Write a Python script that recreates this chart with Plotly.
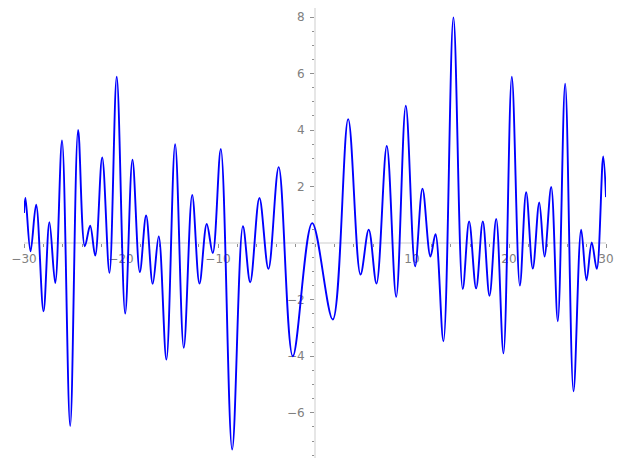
import plotly.graph_objects as go

# Curve points (local extrema and a few shape points)
x_vals = [-30, -29.85, -29.33, -28.75, -27.99, -27.38, -26.78, -26.08, -25.24, -24.42,
          -23.73, -23.18, -22.66, -21.94, -21.19, -20.44, -19.57, -18.82, -18.06, -17.41,
          -16.73, -16.11, -15.32, -14.42, -13.53, -12.66, -11.91, -11.16, -10.54, -9.71,
          -8.54, -7.43, -6.68, -5.73, -4.8, -3.74, -2.29, -0.29, 1.83, 3.42,
          4.69, 5.54, 6.34, 7.4, 8.37, 9.36, 10.32, 11.08, 11.9, 12.42,
          13.24, 14.27, 15.23, 15.89, 16.61, 17.3, 17.99, 18.68, 19.43, 20.29,
          21.12, 21.77, 22.45, 23.12, 23.66, 24.35, 25.03, 25.79, 26.65, 27.44,
          27.99, 28.53, 29.05, 29.71, 30]
y_vals = [1.07, 1.6, -0.29, 1.36, -2.41, 0.74, -1.41, 3.63, -6.47, 4.01,
          -0.11, 0.62, -0.44, 3.03, -1.05, 5.89, -2.49, 2.95, -1.02, 0.98,
          -1.44, 0.24, -4.12, 3.5, -3.7, 1.71, -1.43, 0.68, -0.35, 3.33,
          -7.3, 0.6, -1.38, 1.6, -0.91, 2.69, -4.0, 0.71, -2.7, 4.39,
          -1.11, 0.48, -1.43, 3.44, -1.9, 4.86, -0.82, 1.93, -0.47, 0.32,
          -3.47, 7.99, -1.62, 0.77, -1.6, 0.77, -1.86, 0.86, -3.9, 5.89,
          -1.5, 1.8, -0.9, 1.44, -0.47, 1.99, -2.76, 5.64, -5.24, 0.48,
          -1.31, 0.03, -0.91, 3.07, 1.63]

x_ticks = [-30, -20, -10, 10, 20, 30]
x_labels = ["\u221230", "\u221220", "\u221210", "10", "20", "30"]
y_ticks = [-6, -4, -2, 2, 4, 6, 8]
y_labels = ["\u22126", "\u22124", "\u22122", "2", "4", "6", "8"]
x_minor = [v for v in range(-30, 31, 2)]
y_minor = [v / 2 for v in range(-15, 17)]

x_range = [-30, 30]
y_range = [-7.6, 8.32]

fig = go.Figure()
fig.add_trace(go.Scatter(
    x=x_vals, y=y_vals, mode="lines",
    line=dict(color="#0000ff", width=1.9, shape="spline", smoothing=1.0),
    hoverinfo="skip", showlegend=False,
))

axis_common = dict(
    showgrid=False, zeroline=False, showline=True,
    linecolor="#e6e6e6", linewidth=2, layer="below traces",
    ticks="outside", ticklen=4, tickwidth=1, tickcolor="#909090",
    tickfont=dict(family="DejaVu Sans", size=12, color="#808080"),
    tickmode="array",
)

fig.update_layout(
    width=627, height=469,
    margin=dict(l=24, r=21, t=8, b=11),
    paper_bgcolor="white", plot_bgcolor="white",
    xaxis=dict(
        range=x_range, tickvals=x_ticks, ticktext=x_labels,
        anchor="free", position=(0 - y_range[0]) / (y_range[1] - y_range[0]),
        minor=dict(tickmode="array", tickvals=x_minor, ticks="outside",
                   ticklen=2.5, tickcolor="#909090", showgrid=False),
        **axis_common,
    ),
    yaxis=dict(
        range=y_range, tickvals=y_ticks, ticktext=y_labels,
        anchor="free", position=(0 - x_range[0]) / (x_range[1] - x_range[0]),
        ticklabelstandoff=3,
        minor=dict(tickmode="array", tickvals=y_minor, ticks="outside",
                   ticklen=2.5, tickcolor="#909090", showgrid=False),
        **axis_common,
    ),
)

fig.write_html("out.html", config={"displayModeBar": False},
               post_script="document.body.style.margin='0px';")
